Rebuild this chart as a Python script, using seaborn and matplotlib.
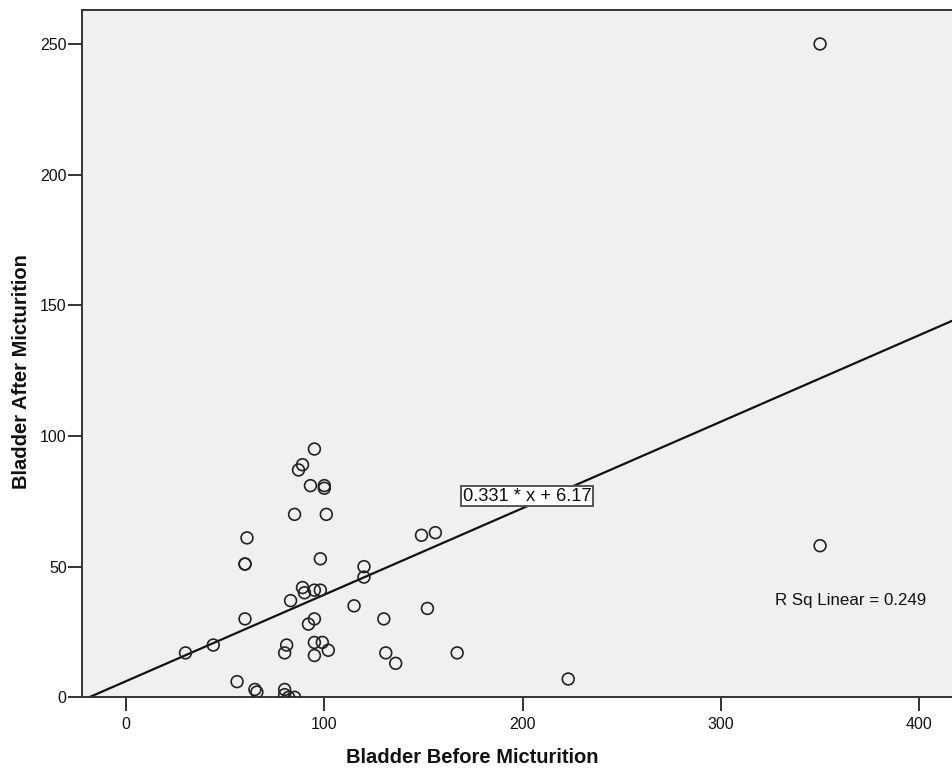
import matplotlib
matplotlib.use("Agg")
import matplotlib.pyplot as plt
import seaborn as sns
import pandas as pd

# ---- data ----
bladder_before = [350, 350, 223, 95, 89, 87, 93, 100, 100, 85, 101, 61, 60, 60, 98,
                  149, 156, 120, 120, 89, 90, 95, 98, 83, 60, 115, 95, 92, 130, 152,
                  30, 44, 81, 80, 95, 99, 102, 95, 131, 136, 167, 56, 65, 66, 80,
                  80, 82, 85]
bladder_after = [250, 58, 7, 95, 89, 87, 81, 81, 80, 70, 70, 61, 51, 51, 53,
                 62, 63, 50, 46, 42, 40, 41, 41, 37, 30, 35, 30, 28, 30, 34,
                 17, 20, 20, 17, 21, 21, 18, 16, 17, 13, 17, 6, 3, 2, 3,
                 1, 0, 0]
fit_slope = 0.331
fit_intercept = 6.17
r_squared = 0.249
x_ticks = [0, 100, 200, 300, 400]
y_ticks = [0, 50, 100, 150, 200, 250]

df = pd.DataFrame({"before": bladder_before, "after": bladder_after})

sns.set_theme(style="white")
plt.rcParams['font.family'] = ['Liberation Sans', 'DejaVu Sans']

fig = plt.figure(figsize=(9.52, 7.71), dpi=100)
ax = fig.add_axes([82/952, 1-697.3/771, (952-82)/952 + 0.002, (697.3-10)/771])
ax.set_facecolor("#f0f0f0")

sns.scatterplot(data=df, x="before", y="after", ax=ax, marker="o", s=72,
                facecolor="none", edgecolor="#222222", linewidth=1.2, zorder=3)

ax.axline((0, fit_intercept), slope=fit_slope, color="#111111", lw=1.6, zorder=2)

ax.set_xlim(-22.2, 417.5)
ax.set_ylim(0, 263)
ax.set_xticks(x_ticks)
ax.set_yticks(y_ticks)
ax.set_xticklabels([str(t) for t in x_ticks], fontsize=11.5, color="#111111")
ax.set_yticklabels([str(t) for t in y_ticks], fontsize=11.5, color="#111111")
ax.tick_params(axis="both", direction="out", length=10, width=1.4, color="#333333",
               bottom=True, left=True)
ax.tick_params(axis="x", pad=4)
ax.tick_params(axis="y", pad=1)

for side in ["left", "bottom", "top"]:
    ax.spines[side].set_color("#333333")
    ax.spines[side].set_linewidth(1.4)
ax.spines["right"].set_visible(False)

ax.set_xlabel("Bladder Before Micturition", fontsize=14.5, fontweight="bold", color="#111111")
ax.set_ylabel("Bladder After Micturition", fontsize=14.5, fontweight="bold", color="#111111")
ax.xaxis.set_label_coords((471-82)/870, (697.3-748)/687.3)
ax.yaxis.set_label_coords((31-82)/870, (697.3-372)/687.3)

ax.text(202.3, 77.0, f"{fit_slope} * x + {fit_intercept}", fontsize=13.2, color="#111111",
        ha="center", va="center", zorder=5,
        bbox=dict(boxstyle="square,pad=0.1", facecolor="white", edgecolor="#555555", linewidth=1.4))
ax.text(365.3, 37.0, f"R Sq Linear = {r_squared}", fontsize=12.2, color="#111111",
        ha="center", va="center")

fig.savefig("out.png", dpi=100, facecolor="white")
